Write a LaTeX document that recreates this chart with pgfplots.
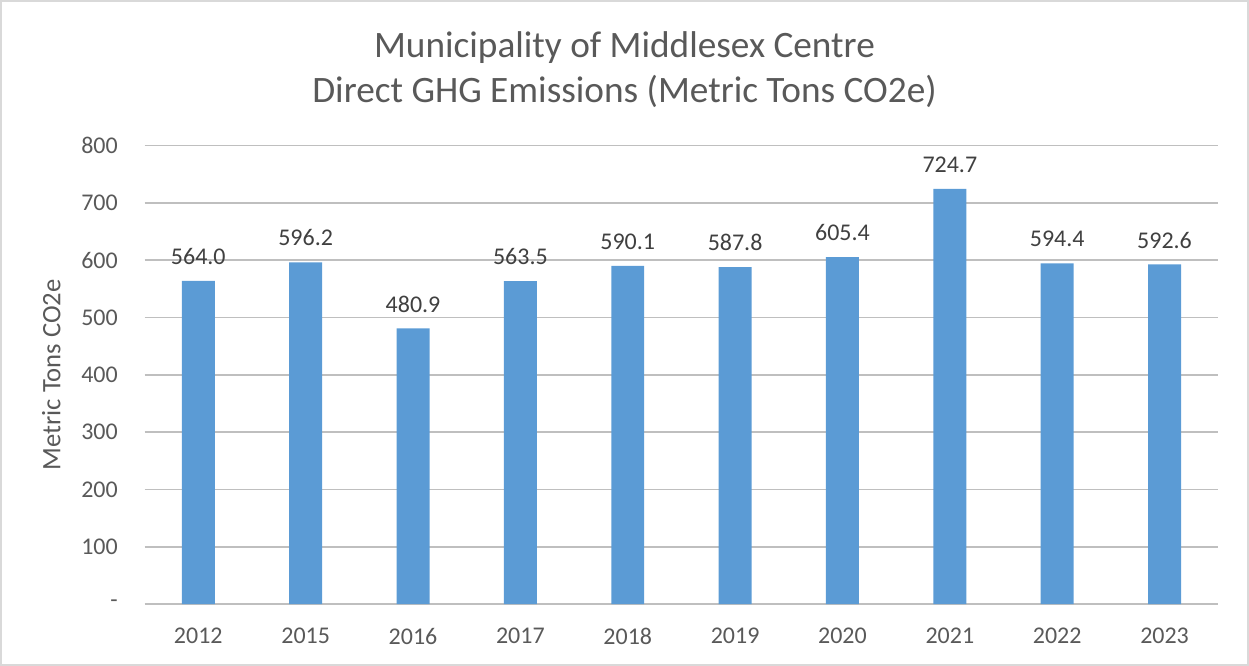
\documentclass[border=0pt]{standalone}
\usepackage{fontspec}
\setmainfont{Carlito}
\usepackage{pgfplots}
\pgfplotsset{compat=1.18}
\usetikzlibrary{calc}
\definecolor{bar}{HTML}{5B9BD5}
\definecolor{grid}{HTML}{D9D9D9}
\definecolor{tick}{HTML}{595959}
\definecolor{lbl}{HTML}{404040}
\definecolor{frame}{HTML}{D9D9D9}

\begin{document}
\begin{tikzpicture}
\begin{axis}[
  scale only axis, width=806.25pt, height=344.25pt,
  ybar, bar width=24.75pt,
  xmin=-0.5, xmax=9.5, ymin=0, ymax=800,
  xtick=data, xticklabels={2012,2015,2016,2017,2018,2019,2020,2021,2022,2023},
  ytick={0,100,...,800}, yticklabels={-,100,200,300,400,500,600,700,800},
  ymajorgrids, xmajorgrids=false, grid style={grid, line width=1.2pt},
  axis line style={draw=none}, major tick length=0pt, tick style={draw=none},
  /pgf/number format/assume math mode=true,
  tick label style={font=\fontsize{18}{20}\selectfont, color=tick},
  xticklabel style={anchor=north, inner sep=0pt, yshift=-18pt},
  yticklabel style={anchor=east, inner sep=0pt, xshift=-20pt},
  ylabel={Metric Tons CO2e},
  ylabel style={font=\fontsize{20}{22}\selectfont, color=tick, at={(rel axis cs:0,0.5)}, anchor=center, yshift=70pt},
  nodes near coords={\pgfmathprintnumber[fixed,zerofill,precision=1]{\pgfplotspointmeta}},
  nodes near coords style={font=\fontsize{18}{20}\selectfont, color=lbl, anchor=south, inner sep=0pt, yshift=12pt},
  clip=false,
]
\addplot[fill=bar, draw=none] coordinates {
  (0,564.0) (1,596.2) (2,480.9) (3,563.5) (4,590.1)
  (5,587.8) (6,605.4) (7,724.7) (8,594.4) (9,592.6)};
\end{axis}
\coordinate (fsw) at ([xshift=-108pt,yshift=-45.75pt]current axis.south west);
\coordinate (fne) at ([xshift=22.5pt,yshift=108.75pt]current axis.north east);
\draw[frame, line width=1.2pt] (fsw) rectangle (fne);
\coordinate (ftop) at ($(fsw|-fne)!0.5!(fne)$);
\node[font=\fontsize{28}{34}\selectfont, color=tick, anchor=base] at ([yshift=-42.75pt]ftop) {Municipality of Middlesex Centre};
\node[font=\fontsize{28}{34}\selectfont, color=tick, anchor=base] at ([yshift=-76.5pt]ftop) {Direct GHG Emissions (Metric Tons CO2e)};
\end{tikzpicture}
\end{document}
